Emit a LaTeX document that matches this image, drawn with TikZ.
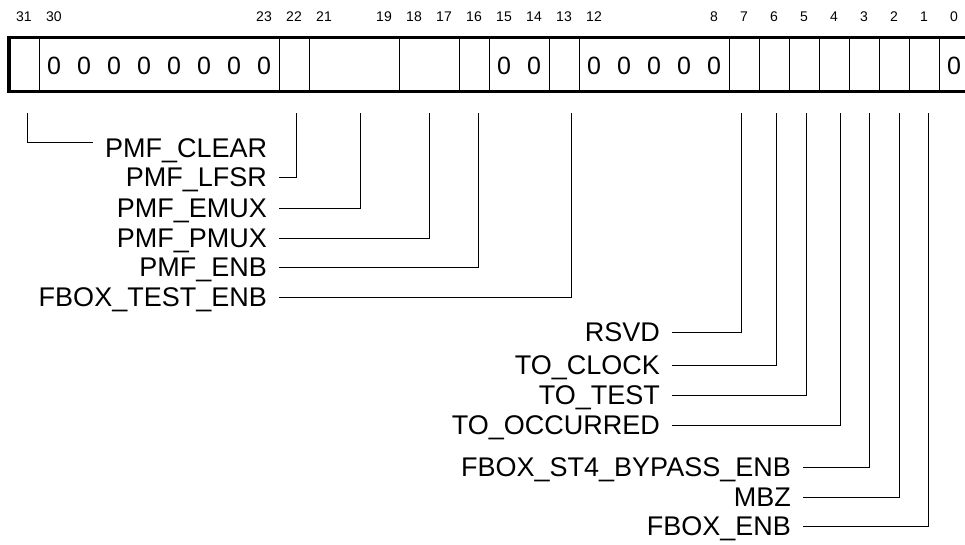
\documentclass[tikz,border=0pt]{standalone}
\usepackage{fontspec}
\setmainfont{Liberation Sans}

\begin{document}
\begin{tikzpicture}[x=1pt,y=-1pt,
        reg/.style={line width=3.5pt},
        divider/.style={line width=0.9pt},
        lead/.style={line width=0.9pt},
        bitnum/.style={font=\fontsize{14}{16}\selectfont, inner sep=0pt},
        zero/.style={font=\fontsize{25}{27}\selectfont, inner sep=0pt, text height=17.9pt, text depth=0pt},
        lbl/.style={font=\fontsize{27}{29}\selectfont, inner xsep=12pt, inner ysep=0pt, text height=19.3pt, text depth=0pt}]
    \useasboundingbox (0,0) rectangle (965,544);

    % Register outline
    \draw[reg] (968,37.5) -- (9,37.5) -- (9,91.5) -- (968,91.5);
    \foreach \b in {31,23,22,19,17,16,14,13,8,7,6,5,4,3,2,1} {
        \draw[divider] ({9+(32-\b)*30},37.5) -- ({9+(32-\b)*30},91.5);
    }

    % Bit numbers
    \foreach \b in {31,30,23,22,21,19,18,17,16,15,14,13,12,8,7,6,5,4,3,2,1,0} {
        \node[bitnum] (n\b) at ({24+(31-\b)*30},17) {\b};
    }

    % Fixed zero bits
    \foreach \b in {30,29,28,27,26,25,24,23,15,14,12,11,10,9,8,0} {
        \node[zero] (z\b) at ({24+(31-\b)*30},66) {0};
    }

    % Leader start points
    \foreach \name/\x in {s31/27, s22/296, s21/360, s18/429, s16/478, s13/571,
                          s7/741, s6/776, s5/806, s4/840, s3/869, s2/899, s1/928} {
        \coordinate (\name) at (\x,113);
    }

    % Upper field labels
    \node[lbl, anchor=west] (clear) at (93,148) {PMF\_CLEAR};
    \node[lbl, anchor=east] (lfsr) at (279,177) {PMF\_LFSR};
    \node[lbl, anchor=east] (emux) at (279,208) {PMF\_EMUX};
    \node[lbl, anchor=east] (pmux) at (279,238) {PMF\_PMUX};
    \node[lbl, anchor=east] (pmfenb) at (279,267) {PMF\_ENB};
    \node[lbl, anchor=east] (testenb) at (279,297) {FBOX\_TEST\_ENB};

    % Lower field labels
    \node[lbl, anchor=east] (rsvd) at (672,332) {RSVD};
    \node[lbl, anchor=east] (clock) at (672,365) {TO\_CLOCK};
    \node[lbl, anchor=east] (totest) at (672,395) {TO\_TEST};
    \node[lbl, anchor=east] (occurred) at (672,425) {TO\_OCCURRED};
    \node[lbl, anchor=east] (bypass) at (803,467) {FBOX\_ST4\_BYPASS\_ENB};
    \node[lbl, anchor=east] (mbz) at (803,497) {MBZ};
    \node[lbl, anchor=east] (fboxenb) at (803,526) {FBOX\_ENB};

    % Leaders
    \draw[lead] (s31) |- ([yshift=6pt]clear.west);
    \draw[lead] (s22) |- (lfsr.east);
    \draw[lead] (s21) |- (emux.east);
    \draw[lead] (s18) |- (pmux.east);
    \draw[lead] (s16) |- (pmfenb.east);
    \draw[lead] (s13) |- (testenb.east);
    \draw[lead] (s7) |- (rsvd.east);
    \draw[lead] (s6) |- (clock.east);
    \draw[lead] (s5) |- (totest.east);
    \draw[lead] (s4) |- (occurred.east);
    \draw[lead] (s3) |- (bypass.east);
    \draw[lead] (s2) |- (mbz.east);
    \draw[lead] (s1) |- (fboxenb.east);
\end{tikzpicture}
\end{document}
